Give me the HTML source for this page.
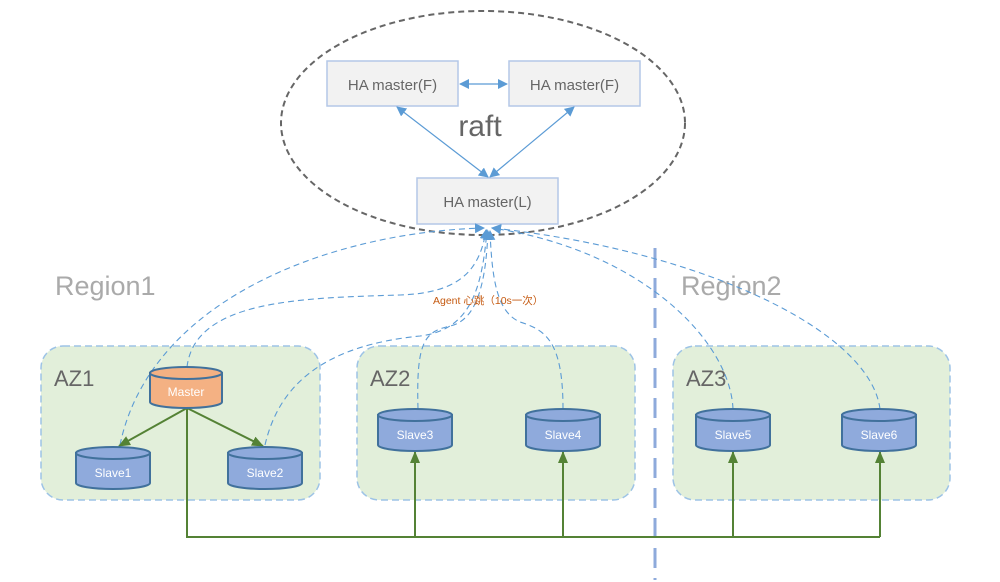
<!DOCTYPE html>
<html><head><meta charset="utf-8"><style>
html,body{margin:0;padding:0;background:#fff;}
svg{display:block;font-family:"Liberation Sans","Noto Sans CJK SC",sans-serif;}
</style></head><body>
<svg width="1000" height="582" viewBox="0 0 1000 582" xmlns="http://www.w3.org/2000/svg">
<defs>
<marker id="ab" markerWidth="10" markerHeight="10" refX="9" refY="5" orient="auto" markerUnits="userSpaceOnUse"><path d="M0,0 L10,5 L0,10 z" fill="#5b9bd5"/></marker>
<marker id="abs" markerWidth="10" markerHeight="10" refX="1" refY="5" orient="auto" markerUnits="userSpaceOnUse"><path d="M10,0 L0,5 L10,10 z" fill="#5b9bd5"/></marker>
<marker id="ag" markerWidth="12" markerHeight="12" refX="11" refY="6" orient="auto" markerUnits="userSpaceOnUse"><path d="M0,1 L12,6 L0,11 z" fill="#548235"/></marker>
</defs>
<rect x="41" y="346" width="279" height="154" rx="22" fill="#e2efda" stroke="#9dc3e6" stroke-width="1.5" stroke-dasharray="7,4"/>
<rect x="357" y="346" width="278" height="154" rx="22" fill="#e2efda" stroke="#9dc3e6" stroke-width="1.5" stroke-dasharray="7,4"/>
<rect x="673" y="346" width="277" height="154" rx="22" fill="#e2efda" stroke="#9dc3e6" stroke-width="1.5" stroke-dasharray="7,4"/>
<text x="54" y="386" font-size="22" fill="#666">AZ1</text>
<text x="370" y="386" font-size="22" fill="#666">AZ2</text>
<text x="686" y="386" font-size="22" fill="#666">AZ3</text>
<text x="55" y="295" font-size="27" fill="#aaa">Region1</text>
<text x="681" y="295" font-size="27" fill="#aaa">Region2</text>
<line x1="655" y1="248" x2="655" y2="580" stroke="#8eaadb" stroke-width="3" stroke-dasharray="20,10"/>
<ellipse cx="483" cy="123" rx="202" ry="112" fill="none" stroke="#666" stroke-width="2" stroke-dasharray="6,4"/>
<rect x="327" y="61" width="131" height="45" fill="#f2f2f2" stroke="#b4c7e7" stroke-width="1.5"/>
<rect x="509" y="61" width="131" height="45" fill="#f2f2f2" stroke="#b4c7e7" stroke-width="1.5"/>
<rect x="417" y="178" width="141" height="46" fill="#f2f2f2" stroke="#b4c7e7" stroke-width="1.5"/>
<text x="392.5" y="90" font-size="15" fill="#666" text-anchor="middle">HA master(F)</text>
<text x="574.5" y="90" font-size="15" fill="#666" text-anchor="middle">HA master(F)</text>
<text x="487.5" y="207" font-size="15" fill="#666" text-anchor="middle">HA master(L)</text>
<text x="480" y="136" font-size="30" fill="#666" text-anchor="middle">raft</text>
<line x1="460" y1="84" x2="507" y2="84" stroke="#5b9bd5" stroke-width="1.2" marker-start="url(#abs)" marker-end="url(#ab)"/>
<line x1="397" y1="107" x2="488" y2="177" stroke="#5b9bd5" stroke-width="1.2" marker-start="url(#abs)" marker-end="url(#ab)"/>
<line x1="574" y1="107" x2="490" y2="177" stroke="#5b9bd5" stroke-width="1.2" marker-start="url(#abs)" marker-end="url(#ab)"/>
<g fill="none" stroke="#5b9bd5" stroke-width="1.1" stroke-dasharray="6,4">
<path d="M120,445 C150,300 330,232 484,228" marker-end="url(#ab)"/>
<path d="M187,367 C195,300 300,298 400,295 C460,293 480,270 486,230" marker-end="url(#ab)"/>
<path d="M265,445 C280,380 330,345 420,336 C470,330 482,290 487,230" marker-end="url(#ab)"/>
<path d="M418,409 C416,340 425,332 450,326 C478,320 486,280 488,231" marker-end="url(#ab)"/>
<path d="M563,409 C563,340 545,330 520,322 C497,312 492,280 490,231" marker-end="url(#ab)"/>
<path d="M733,409 C730,340 640,250 492,228" marker-end="url(#ab)"/>
<path d="M880,409 C870,330 700,250 492,228" marker-end="url(#ab)"/>
</g>
<text x="433" y="304" font-size="10.5" fill="#c55a11">Agent 心跳（10s一次）</text>
<g fill="none" stroke="#548235" stroke-width="2">
<line x1="187" y1="408" x2="119" y2="446" marker-end="url(#ag)"/>
<line x1="187" y1="408" x2="263" y2="446" marker-end="url(#ag)"/>
<polyline points="187,408 187,537 880,537"/>
<line x1="415" y1="537" x2="415" y2="452" marker-end="url(#ag)"/>
<line x1="563" y1="537" x2="563" y2="452" marker-end="url(#ag)"/>
<line x1="733" y1="537" x2="733" y2="452" marker-end="url(#ag)"/>
<line x1="880" y1="537" x2="880" y2="452" marker-end="url(#ag)"/>
</g>
<g stroke="#41719c" stroke-width="2">
<path d="M150,373 L150,402 A36,6 0 0 0 222,402 L222,373 Z" fill="#f4b183"/>
<ellipse cx="186" cy="373" rx="36" ry="6" fill="#f4b183"/>
<path d="M76,453 L76,483 A37,6 0 0 0 150,483 L150,453 Z" fill="#8faadc"/>
<ellipse cx="113" cy="453" rx="37" ry="6" fill="#8faadc"/>
<path d="M228,453 L228,483 A37,6 0 0 0 302,483 L302,453 Z" fill="#8faadc"/>
<ellipse cx="265" cy="453" rx="37" ry="6" fill="#8faadc"/>
<path d="M378,415 L378,445 A37,6 0 0 0 452,445 L452,415 Z" fill="#8faadc"/>
<ellipse cx="415" cy="415" rx="37" ry="6" fill="#8faadc"/>
<path d="M526,415 L526,445 A37,6 0 0 0 600,445 L600,415 Z" fill="#8faadc"/>
<ellipse cx="563" cy="415" rx="37" ry="6" fill="#8faadc"/>
<path d="M696,415 L696,445 A37,6 0 0 0 770,445 L770,415 Z" fill="#8faadc"/>
<ellipse cx="733" cy="415" rx="37" ry="6" fill="#8faadc"/>
<path d="M842,415 L842,445 A37,6 0 0 0 916,445 L916,415 Z" fill="#8faadc"/>
<ellipse cx="879" cy="415" rx="37" ry="6" fill="#8faadc"/>
</g>
<g font-size="12" fill="#fff" text-anchor="middle">
<text x="186" y="396">Master</text>
<text x="113" y="477">Slave1</text>
<text x="265" y="477">Slave2</text>
<text x="415" y="439">Slave3</text>
<text x="563" y="439">Slave4</text>
<text x="733" y="439">Slave5</text>
<text x="879" y="439">Slave6</text>
</g>
</svg>
</body></html>
